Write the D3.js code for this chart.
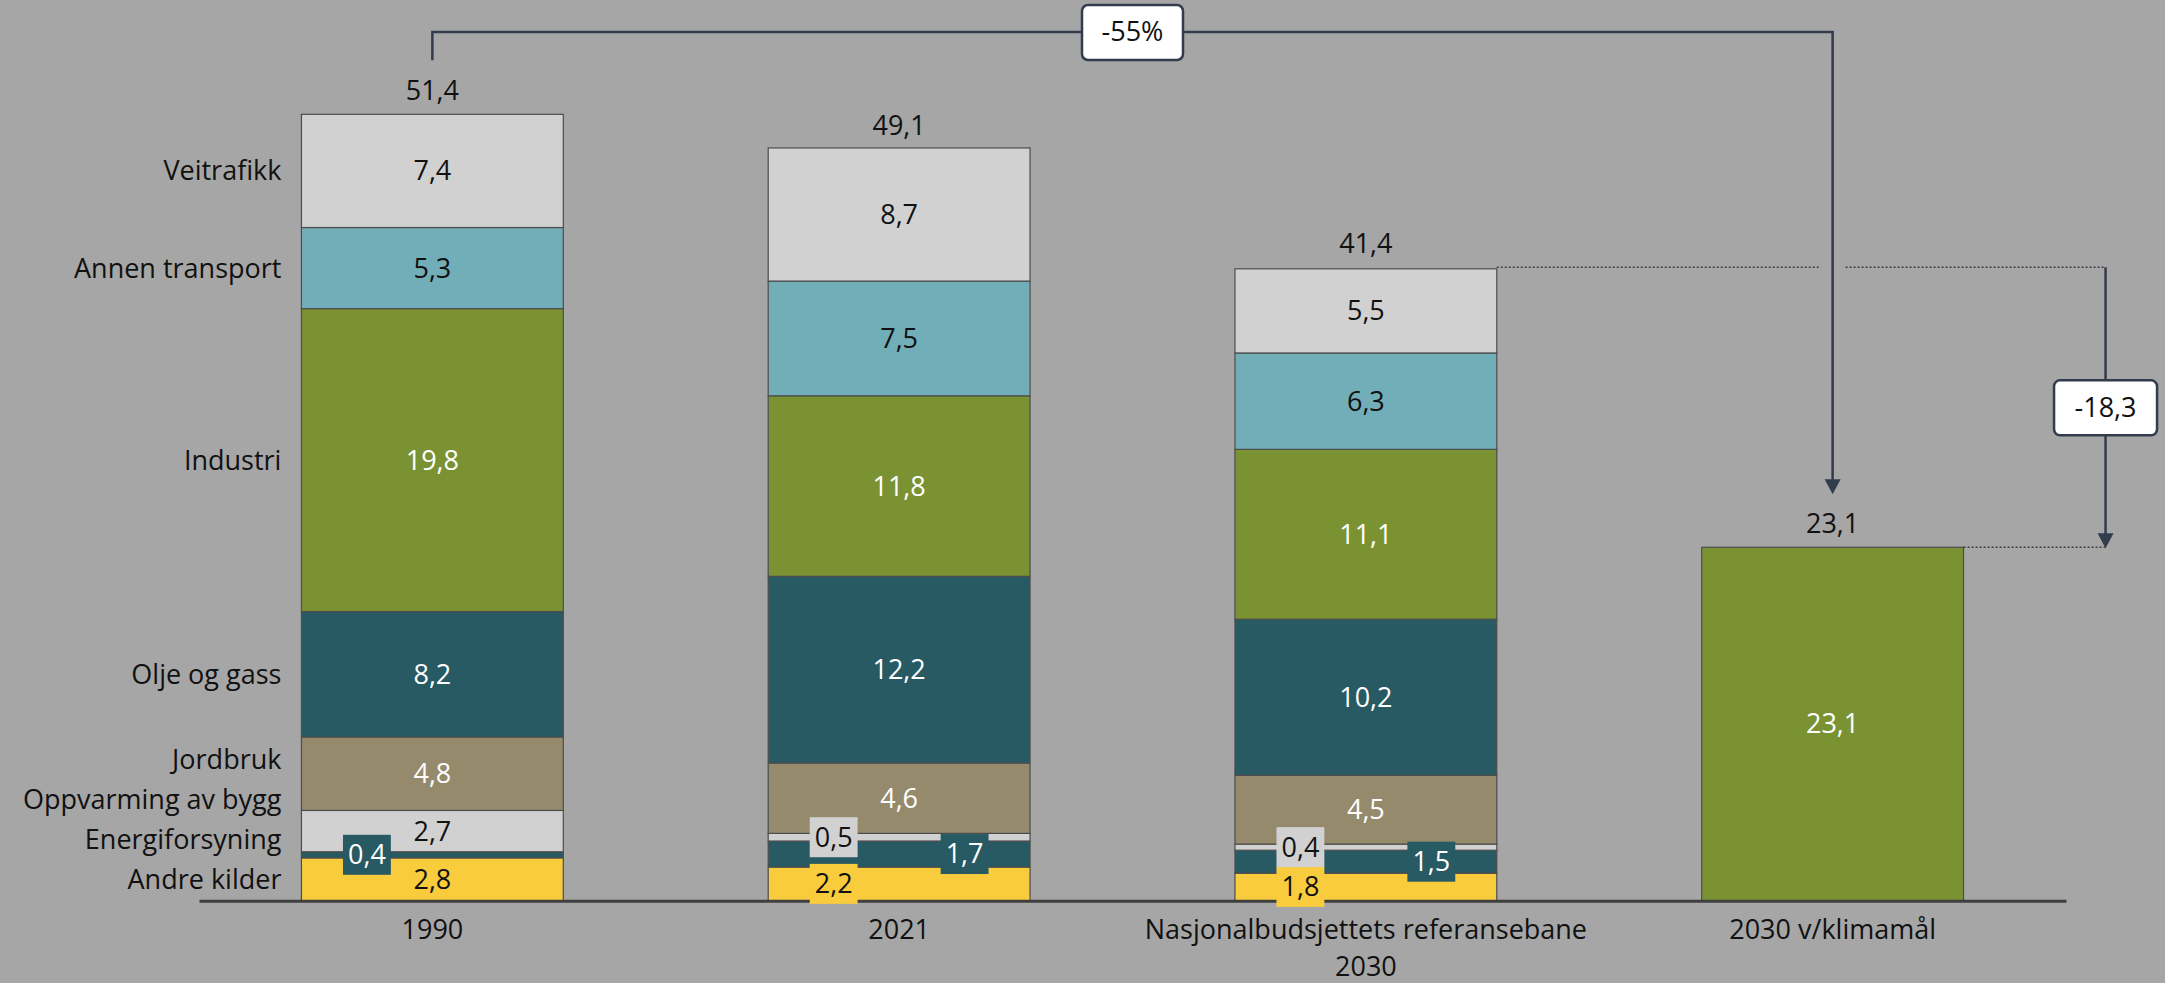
<!DOCTYPE html>
<html>
<head>
<meta charset="utf-8">
<script src="https://cdn.jsdelivr.net/npm/d3@7"></script>
<style>
  html, body { margin: 0; padding: 0; background: #A6A6A6; }
  svg { display: block; font-family: 'Open Sans', sans-serif; }
</style>
</head>
<body>
<svg id="canvas" width="2165" height="983"></svg>
<script>
// ************************************************************************************** //
// Data (mill. tonn CO2-ekvivalenter)

var categories = ['1990', '2021', 'Nasjonalbudsjettets referansebane 2030', '2030 v/klimamål'];
var tick_labels = [['1990'], ['2021'], ['Nasjonalbudsjettets referansebane', '2030'], ['2030 v/klimamål']];
var sectors = ['Andre kilder', 'Energiforsyning', 'Oppvarming av bygg', 'Jordbruk', 'Olje og gass', 'Industri', 'Annen transport', 'Veitrafikk'];

var andre_kilder    = [2.8, 2.2, 1.8, 0];
var energiforsyning = [0.4, 1.7, 1.5, 0];
var oppvarming      = [2.7, 0.5, 0.4, 0];
var jordbruk        = [4.8, 4.6, 4.5, 0];
var olje_gass       = [8.2, 12.2, 10.2, 0];
var industri        = [19.8, 11.8, 11.1, 0];
var annen_transport = [5.3, 7.5, 6.3, 0];
var veitrafikk      = [7.4, 8.7, 5.5, 0];
var klimamaal       = [0, 0, 0, 23.1];

var totals = [51.4, 49.1, 41.4, 23.1];
var change_labels = ['-55%', '-18,3'];

// ************************************************************************************** //
// Setup

var svg = d3.select('#canvas');
var line_color = '#323C4D';
var font_size = '27px';

var colors = {
  'Andre kilder': '#F9CC3E', 'Energiforsyning': '#275A63', 'Oppvarming av bygg': '#D1D1D1',
  'Jordbruk': '#958A6C', 'Olje og gass': '#275A63', 'Industri': '#7A9232',
  'Annen transport': '#72AEB8', 'Veitrafikk': '#D1D1D1', 'Klimamål': '#7A9232'
};
var dark_text = { 'Andre kilder': 1, 'Oppvarming av bygg': 1, 'Annen transport': 1, 'Veitrafikk': 1 };

// small segments get a boxed label pushed to the side (fraction of bar width)
var side_labels = {
  '1990': { 'Energiforsyning': 0.25 },
  '2021': { 'Andre kilder': 0.25, 'Energiforsyning': 0.75, 'Oppvarming av bygg': 0.25 },
  'Nasjonalbudsjettets referansebane 2030': { 'Andre kilder': 0.25, 'Energiforsyning': 0.75, 'Oppvarming av bygg': 0.25 }
};

var series_values = [andre_kilder, energiforsyning, oppvarming, jordbruk, olje_gass, industri, annen_transport, veitrafikk, klimamaal];
var keys = sectors.concat(['Klimamål']);

var rows = categories.map(function(c, i){
  var r = { cat: c };
  keys.forEach(function(k, j){ r[k] = series_values[j][i]; });
  return r;
});
var stacked = d3.stack().keys(keys)(rows);

var x = d3.scaleBand().domain(categories).range([199, 2066]).paddingInner(0.439).paddingOuter(0.2195);
var y = d3.scaleLinear().domain([0, 51.4]).range([900.7, 114.3]);
var bw = x.bandwidth();

var fmt = function(v){ return d3.format('.1f')(v).replace('.', ','); };

// ************************************************************************************** //
// Bars

var bars_g = svg.append('g');
stacked.forEach(function(s){
  bars_g.selectAll(null).data(s.filter(function(d){ return d[1] - d[0] > 0; })).enter()
    .append('rect')
    .attr('x', function(d){ return x(d.data.cat); })
    .attr('y', function(d){ return y(d[1]); })
    .attr('width', bw)
    .attr('height', function(d){ return y(d[0]) - y(d[1]); })
    .attr('fill', colors[s.key])
    .attr('stroke', '#4d4d4d')
    .attr('stroke-width', 1.2);
});

// axis
var axis_g = svg.append('g').attr('transform', 'translate(0,' + y(0) + ')')
  .call(d3.axisBottom(x).tickSize(0).tickSizeOuter(0));
axis_g.select('.domain').attr('stroke', '#3f3f3f').attr('stroke-width', 3);
axis_g.selectAll('.tick text').each(function(d, i){
  var t = d3.select(this).text(null).attr('y', 0).attr('dy', null)
    .attr('fill', '#111').style('font-size', font_size).style('font-family', "'Open Sans', sans-serif");
  tick_labels[i].forEach(function(line, j){
    t.append('tspan').attr('x', 0).attr('y', 38 + j * 37).text(line);
  });
});

// ************************************************************************************** //
// Segment labels

var labels_g = svg.append('g').style('font-size', font_size);
stacked.forEach(function(s){
  s.forEach(function(d){
    var v = d[1] - d[0];
    if(v <= 0) return;
    var cat = d.data.cat;
    var side = side_labels[cat] ? side_labels[cat][s.key] : undefined;
    var cx = x(cat) + bw * (side === undefined ? 0.5 : side);
    var cy = y((d[0] + d[1]) / 2);
    var g = labels_g.append('g').attr('transform', 'translate(' + cx + ',' + cy + ')');
    var box = g.append('rect');
    var t = g.append('text').attr('text-anchor', 'middle').attr('dy', '0.35em')
      .attr('fill', dark_text[s.key] ? '#111' : '#fff').text(fmt(v));
    if(side !== undefined){
      var tw = t.node().getComputedTextLength();
      box.attr('x', -tw / 2 - 5).attr('y', -20).attr('width', tw + 10).attr('height', 40).attr('fill', colors[s.key]);
    } else {
      box.remove();
    }
  });
});

// totals
svg.append('g').style('font-size', font_size).selectAll('text').data(categories).enter()
  .append('text')
  .attr('x', function(c){ return x(c) + bw / 2; })
  .attr('y', function(c, i){ return y(totals[i]) - 24; })
  .attr('dy', '0.35em').attr('text-anchor', 'middle').attr('fill', '#111')
  .text(function(c, i){ return fmt(totals[i]); });

// sector names, left of first bar, pushed apart when crowded
var first = stacked.slice(0, sectors.length).map(function(s){ return y((s[0][0] + s[0][1]) / 2); });
var pos = [];
first.forEach(function(c, i){ pos.push(i == 0 ? c : Math.min(c, pos[i - 1] - 40)); });
svg.append('g').style('font-size', font_size).selectAll('text').data(sectors).enter()
  .append('text')
  .attr('x', x(categories[0]) - 20)
  .attr('y', function(d, i){ return pos[i]; })
  .attr('dy', '0.35em').attr('text-anchor', 'end').attr('fill', '#111')
  .text(function(d){ return d; });

// ************************************************************************************** //
// Change annotations

var ann_g = svg.append('g');

function arrow_head(px, py){
  ann_g.append('path').attr('d', 'M' + (px - 8) + ',' + (py - 15) + 'L' + (px + 8) + ',' + (py - 15) + 'L' + px + ',' + py + 'Z')
    .attr('fill', line_color);
}
function label_box(cx, cy, w, txt){
  ann_g.append('rect').attr('x', cx - w / 2).attr('y', cy - 27).attr('width', w).attr('height', 55)
    .attr('rx', 6).attr('fill', '#fff').attr('stroke', line_color).attr('stroke-width', 2.5);
  ann_g.append('text').attr('x', cx).attr('y', cy).attr('dy', '0.35em').attr('text-anchor', 'middle')
    .style('font-size', font_size).attr('fill', '#111').text(txt);
}

// -55 %: 1990 -> 2030 target
var x1 = x(categories[0]) + bw / 2, x4 = x(categories[3]) + bw / 2;
var top_y = 32;
var tip55 = y(totals[3]) - 53;
ann_g.append('path')
  .attr('d', 'M' + x1 + ',' + (y(totals[0]) - 54) + 'V' + top_y + 'H' + x4 + 'V' + (tip55 - 12))
  .attr('fill', 'none').attr('stroke', line_color).attr('stroke-width', 2.5);
arrow_head(x4, tip55);
label_box((x1 + x4) / 2, top_y, 101, change_labels[0]);

// -18,3: reference path -> target
var xr = x(categories[3]) + bw + 142;
var y_ref = y(totals[2]), y_goal = y(totals[3]);
var dotted = function(xa, xb, yy){
  ann_g.append('line').attr('x1', xa).attr('x2', xb).attr('y1', yy).attr('y2', yy)
    .attr('stroke', '#3f3f3f').attr('stroke-width', 1.5).attr('stroke-dasharray', '2,2');
};
dotted(x(categories[2]) + bw, x4 - 14, y_ref);
dotted(x4 + 13, xr, y_ref);
dotted(x(categories[3]) + bw, xr, y_goal);
ann_g.append('line').attr('x1', xr).attr('x2', xr).attr('y1', y_ref).attr('y2', y_goal - 12)
  .attr('stroke', line_color).attr('stroke-width', 2.5);
arrow_head(xr, y_goal + 1);
label_box(xr, (y_ref + y_goal) / 2, 103, change_labels[1]);
</script>
</body>
</html>
